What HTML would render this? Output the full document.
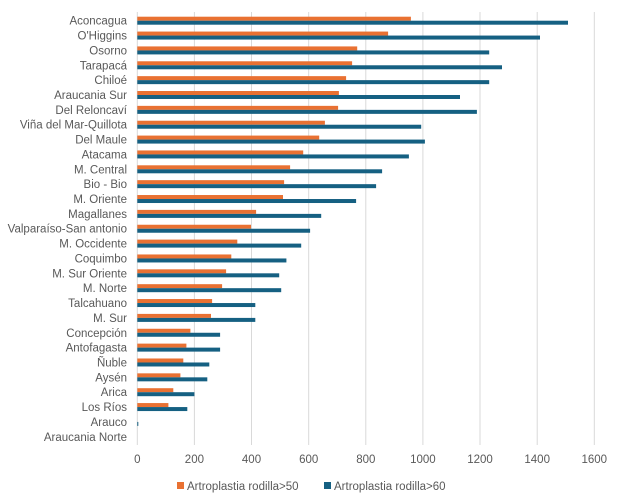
<!DOCTYPE html>
<html><head><meta charset="utf-8"><style>body{margin:0;background:#fff}svg{display:block}</style></head><body>
<svg width="617" height="500" xmlns="http://www.w3.org/2000/svg" font-family="Liberation Sans, sans-serif" font-size="11.5" fill="#595959">
<g stroke="#d9d9d9" stroke-width="1">
<line x1="137.3" y1="12" x2="137.3" y2="445"/><line x1="194.4" y1="12" x2="194.4" y2="445"/><line x1="251.5" y1="12" x2="251.5" y2="445"/><line x1="308.7" y1="12" x2="308.7" y2="445"/><line x1="365.8" y1="12" x2="365.8" y2="445"/><line x1="422.9" y1="12" x2="422.9" y2="445"/><line x1="480" y1="12" x2="480" y2="445"/><line x1="537.2" y1="12" x2="537.2" y2="445"/><line x1="594.3" y1="12" x2="594.3" y2="445"/>
</g>
<g text-anchor="middle">
<text x="137.3" y="463">0</text><text x="194.4" y="463">200</text><text x="251.5" y="463">400</text><text x="308.7" y="463">600</text><text x="365.8" y="463">800</text><text x="422.9" y="463">1000</text><text x="480" y="463">1200</text><text x="537.2" y="463">1400</text><text x="594.3" y="463">1600</text>
</g>
<g transform="translate(0,20.7)"><text x="127" y="4" text-anchor="end">Aconcagua</text><rect x="137.3" y="-4" width="273.6" height="4" fill="#E97132"/><rect x="137.3" y="0" width="430.7" height="4" fill="#156082"/></g>
<g transform="translate(0,35.56)"><text x="127" y="4" text-anchor="end">O'Higgins</text><rect x="137.3" y="-4" width="250.8" height="4" fill="#E97132"/><rect x="137.3" y="0" width="402.7" height="4" fill="#156082"/></g>
<g transform="translate(0,50.42)"><text x="127" y="4" text-anchor="end">Osorno</text><rect x="137.3" y="-4" width="219.9" height="4" fill="#E97132"/><rect x="137.3" y="0" width="351.9" height="4" fill="#156082"/></g>
<g transform="translate(0,65.28)"><text x="127" y="4" text-anchor="end">Tarapacá</text><rect x="137.3" y="-4" width="214.8" height="4" fill="#E97132"/><rect x="137.3" y="0" width="364.7" height="4" fill="#156082"/></g>
<g transform="translate(0,80.14)"><text x="127" y="4" text-anchor="end">Chiloé</text><rect x="137.3" y="-4" width="208.8" height="4" fill="#E97132"/><rect x="137.3" y="0" width="351.9" height="4" fill="#156082"/></g>
<g transform="translate(0,95)"><text x="127" y="4" text-anchor="end">Araucania Sur</text><rect x="137.3" y="-4" width="201.6" height="4" fill="#E97132"/><rect x="137.3" y="0" width="322.7" height="4" fill="#156082"/></g>
<g transform="translate(0,109.86)"><text x="127" y="4" text-anchor="end">Del Reloncaví</text><rect x="137.3" y="-4" width="200.8" height="4" fill="#E97132"/><rect x="137.3" y="0" width="339.6" height="4" fill="#156082"/></g>
<g transform="translate(0,124.72)"><text x="127" y="4" text-anchor="end">Viña del Mar-Quillota</text><rect x="137.3" y="-4" width="187.6" height="4" fill="#E97132"/><rect x="137.3" y="0" width="283.9" height="4" fill="#156082"/></g>
<g transform="translate(0,139.58)"><text x="127" y="4" text-anchor="end">Del Maule</text><rect x="137.3" y="-4" width="181.9" height="4" fill="#E97132"/><rect x="137.3" y="0" width="287.6" height="4" fill="#156082"/></g>
<g transform="translate(0,154.44)"><text x="127" y="4" text-anchor="end">Atacama</text><rect x="137.3" y="-4" width="165.9" height="4" fill="#E97132"/><rect x="137.3" y="0" width="271.6" height="4" fill="#156082"/></g>
<g transform="translate(0,169.3)"><text x="127" y="4" text-anchor="end">M. Central</text><rect x="137.3" y="-4" width="152.8" height="4" fill="#E97132"/><rect x="137.3" y="0" width="244.8" height="4" fill="#156082"/></g>
<g transform="translate(0,184.16)"><text x="127" y="4" text-anchor="end">Bio - Bio</text><rect x="137.3" y="-4" width="146.8" height="4" fill="#E97132"/><rect x="137.3" y="0" width="238.8" height="4" fill="#156082"/></g>
<g transform="translate(0,199.02)"><text x="127" y="4" text-anchor="end">M. Oriente</text><rect x="137.3" y="-4" width="145.7" height="4" fill="#E97132"/><rect x="137.3" y="0" width="218.8" height="4" fill="#156082"/></g>
<g transform="translate(0,213.88)"><text x="127" y="4" text-anchor="end">Magallanes</text><rect x="137.3" y="-4" width="118.8" height="4" fill="#E97132"/><rect x="137.3" y="0" width="183.9" height="4" fill="#156082"/></g>
<g transform="translate(0,228.74)"><text x="127" y="4" text-anchor="end">Valparaíso-San antonio</text><rect x="137.3" y="-4" width="113.7" height="4" fill="#E97132"/><rect x="137.3" y="0" width="172.8" height="4" fill="#156082"/></g>
<g transform="translate(0,243.6)"><text x="127" y="4" text-anchor="end">M. Occidente</text><rect x="137.3" y="-4" width="100" height="4" fill="#E97132"/><rect x="137.3" y="0" width="163.9" height="4" fill="#156082"/></g>
<g transform="translate(0,258.46)"><text x="127" y="4" text-anchor="end">Coquimbo</text><rect x="137.3" y="-4" width="94" height="4" fill="#E97132"/><rect x="137.3" y="0" width="149.1" height="4" fill="#156082"/></g>
<g transform="translate(0,273.32)"><text x="127" y="4" text-anchor="end">M. Sur Oriente</text><rect x="137.3" y="-4" width="88.8" height="4" fill="#E97132"/><rect x="137.3" y="0" width="141.9" height="4" fill="#156082"/></g>
<g transform="translate(0,288.18)"><text x="127" y="4" text-anchor="end">M. Norte</text><rect x="137.3" y="-4" width="84.8" height="4" fill="#E97132"/><rect x="137.3" y="0" width="143.9" height="4" fill="#156082"/></g>
<g transform="translate(0,303.04)"><text x="127" y="4" text-anchor="end">Talcahuano</text><rect x="137.3" y="-4" width="74.8" height="4" fill="#E97132"/><rect x="137.3" y="0" width="118" height="4" fill="#156082"/></g>
<g transform="translate(0,317.9)"><text x="127" y="4" text-anchor="end">M. Sur</text><rect x="137.3" y="-4" width="73.7" height="4" fill="#E97132"/><rect x="137.3" y="0" width="118" height="4" fill="#156082"/></g>
<g transform="translate(0,332.76)"><text x="127" y="4" text-anchor="end">Concepción</text><rect x="137.3" y="-4" width="53.1" height="4" fill="#E97132"/><rect x="137.3" y="0" width="82.8" height="4" fill="#156082"/></g>
<g transform="translate(0,347.62)"><text x="127" y="4" text-anchor="end">Antofagasta</text><rect x="137.3" y="-4" width="49.1" height="4" fill="#E97132"/><rect x="137.3" y="0" width="82.8" height="4" fill="#156082"/></g>
<g transform="translate(0,362.48)"><text x="127" y="4" text-anchor="end">Ñuble</text><rect x="137.3" y="-4" width="46" height="4" fill="#E97132"/><rect x="137.3" y="0" width="72" height="4" fill="#156082"/></g>
<g transform="translate(0,377.34)"><text x="127" y="4" text-anchor="end">Aysén</text><rect x="137.3" y="-4" width="43.1" height="4" fill="#E97132"/><rect x="137.3" y="0" width="70" height="4" fill="#156082"/></g>
<g transform="translate(0,392.2)"><text x="127" y="4" text-anchor="end">Arica</text><rect x="137.3" y="-4" width="36" height="4" fill="#E97132"/><rect x="137.3" y="0" width="57.1" height="4" fill="#156082"/></g>
<g transform="translate(0,407.06)"><text x="127" y="4" text-anchor="end">Los Ríos</text><rect x="137.3" y="-4" width="31.1" height="4" fill="#E97132"/><rect x="137.3" y="0" width="50" height="4" fill="#156082"/></g>
<g transform="translate(0,421.92)"><text x="127" y="4" text-anchor="end">Arauco</text><rect x="137.3" y="0" width="1" height="4" fill="#156082"/></g>
<g transform="translate(0,436.78)"><text x="127" y="4" text-anchor="end">Araucania Norte</text></g>
<rect x="177" y="482" width="7" height="7" fill="#E97132"/><text x="187" y="490">Artroplastia rodilla&gt;50</text>
<rect x="324" y="482" width="7" height="7" fill="#156082"/><text x="334" y="490">Artroplastia rodilla&gt;60</text>
</svg>
</body></html>
